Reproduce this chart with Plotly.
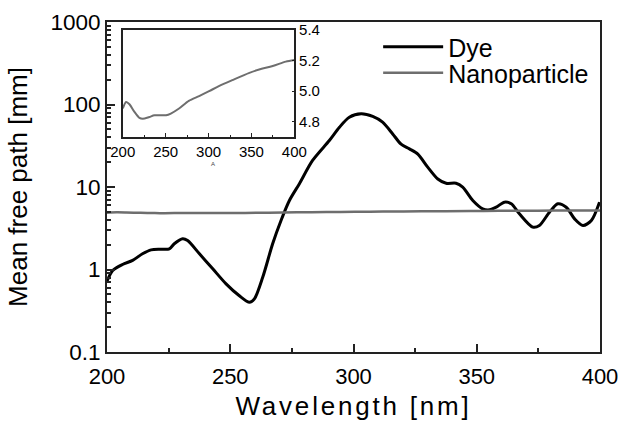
import plotly.graph_objects as go

# Dye mean free path (mm) vs wavelength (nm)
dye_wl = [200, 202.3, 206.3, 210.4, 214.4, 217.9, 221.9, 225.3, 227.3, 230.7, 232.7,
          237.5, 242.9, 248.3, 253.7, 257.8, 259.8, 263.2, 267.2, 270.6, 274, 278,
          283.4, 290.2, 294.3, 298.3, 303.1, 307.8, 311.8, 315.9, 319.3, 322.7,
          326.1, 330.1, 334.2, 337.6, 341.6, 344.3, 348.4, 352.4, 355.2, 357.9,
          361.2, 364, 367.3, 372.7, 375.4, 379.5, 382.9, 386.3, 389.7, 393.1,
          396.5, 399.8]
dye_mfp = [0.72, 0.97, 1.15, 1.29, 1.55, 1.73, 1.76, 1.78, 2.05, 2.36, 2.24,
           1.55, 1.02, 0.67, 0.48, 0.40, 0.44, 0.81, 2.05, 3.93, 6.86, 10.9,
           21, 36.6, 53, 70, 77, 71.6, 61, 44, 33, 29,
           25, 17.4, 12.5, 11.1, 11.1, 9.95, 6.86, 5.44, 5.29, 5.69,
           6.55, 6.26, 4.73, 3.26, 3.41, 4.95, 6.26, 5.69, 4.11, 3.41,
           3.93, 6.55]

# Nanoparticle mean free path (mm)
np_wl = [200, 203.9, 207.8, 213.6, 219.4, 223.3, 231, 237, 250.5, 256, 265.6,
         277, 289, 300.6, 312, 327.6, 347.6, 359, 374.8, 390, 400]
np_mfp = [4.887, 4.93, 4.915, 4.865, 4.826, 4.82, 4.832, 4.843, 4.843, 4.854, 4.887,
          4.937, 4.968, 5.0, 5.033, 5.072, 5.12, 5.142, 5.164, 5.193, 5.204]

y_tickvals = [0.1, 1, 10, 100, 1000]
y_ticktext = ["0.1", "1", "10", "100", "1000"]
x_tickvals = [200, 250, 300, 350, 400]
inset_y_tickvals = [4.8, 5.0, 5.2, 5.4]

FONT = "Liberation Sans, Arial, sans-serif"
AXC = "#222222"

fig = go.Figure()
fig.add_trace(go.Scatter(x=dye_wl, y=dye_mfp, mode="lines", name="Dye", legend="legend",
                         line=dict(color="black", width=3, shape="spline", smoothing=0.8)))
fig.add_trace(go.Scatter(x=np_wl, y=np_mfp, mode="lines", name="Nanoparticle",
                         legend="legend2",
                         line=dict(color="#6e6e6e", width=2.5, shape="spline", smoothing=0.8)))
fig.add_trace(go.Scatter(x=np_wl, y=np_mfp, mode="lines", showlegend=False,
                         xaxis="x2", yaxis="y2",
                         line=dict(color="#6e6e6e", width=2, shape="spline", smoothing=0.8)))

leg_common = dict(x=0.55, xanchor="left", yanchor="middle",
                  bgcolor="rgba(0,0,0,0)", font=dict(size=25, family=FONT),
                  itemwidth=60)

fig.update_layout(
    width=623, height=421,
    margin=dict(l=107, r=23, t=22, b=69, autoexpand=False),
    paper_bgcolor="white", plot_bgcolor="white",
    font=dict(family=FONT, color="black"),
    showlegend=True,
    legend=dict(y=(352 - 47) / 330, **leg_common),
    legend2=dict(y=(352 - 73) / 330, **leg_common),
    xaxis=dict(range=[200, 400], tickvals=x_tickvals, ticks="inside", ticklen=8,
               tickwidth=1.5, tickcolor=AXC, automargin=False, ticklabelstandoff=4,
               minor=dict(dtick=25, tick0=200, ticks="inside", ticklen=4, tickcolor=AXC),
               showgrid=False, zeroline=False, showline=True, linecolor=AXC,
               linewidth=2, mirror=True,
               tickfont=dict(size=22), title=dict(text="Wavelength [nm]",
                                                 font=dict(size=26))),
    yaxis=dict(type="log", range=[-1, 3], tickvals=y_tickvals, ticktext=y_ticktext,
               ticks="inside", ticklen=8, tickwidth=1.5, tickcolor=AXC, automargin=False,
               minor=dict(ticks="inside", ticklen=4, tickcolor=AXC,
                          tickvals=[v * m for v in [0.1, 1, 10, 100] for m in range(2, 10)]),
               showgrid=False, zeroline=False, showline=True, linecolor=AXC,
               linewidth=2, mirror=True,
               tickfont=dict(size=22.5), title=dict(text="Mean free path [mm]",
                                                   font=dict(size=26))),
    xaxis2=dict(domain=[0.032, 0.38], anchor="y2", range=[200, 400],
                tickvals=x_tickvals, ticks="inside", ticklen=4, tickcolor=AXC,
                minor=dict(dtick=25, tick0=200, ticks="inside", ticklen=2, tickcolor=AXC),
                showgrid=False, zeroline=False, showline=True, linecolor=AXC,
                linewidth=1.5, mirror=True, tickfont=dict(size=15)),
    yaxis2=dict(domain=[0.651, 0.976], anchor="x2", side="right", range=[4.7, 5.4],
                tickvals=inset_y_tickvals, tickformat=".1f", ticks="inside", ticklen=3,
                tickcolor=AXC, showgrid=False, zeroline=False, showline=True,
                linecolor=AXC, linewidth=1.5, mirror=True, tickfont=dict(size=15)),
    annotations=[dict(text="A", x=(209 - 107) / 493, y=(352 - 164) / 330,
                      xref="paper", yref="paper",
                      showarrow=False, font=dict(size=6, color="#444"))],
)

post = (
    "document.body.style.margin='0';document.body.style.overflow='hidden';"
    "var t=document.querySelector('.xtitle');"
    "if(t){t.style.letterSpacing='2.8px';}"
)
fig.write_html("out.html", config={"displayModeBar": False}, post_script=post)
